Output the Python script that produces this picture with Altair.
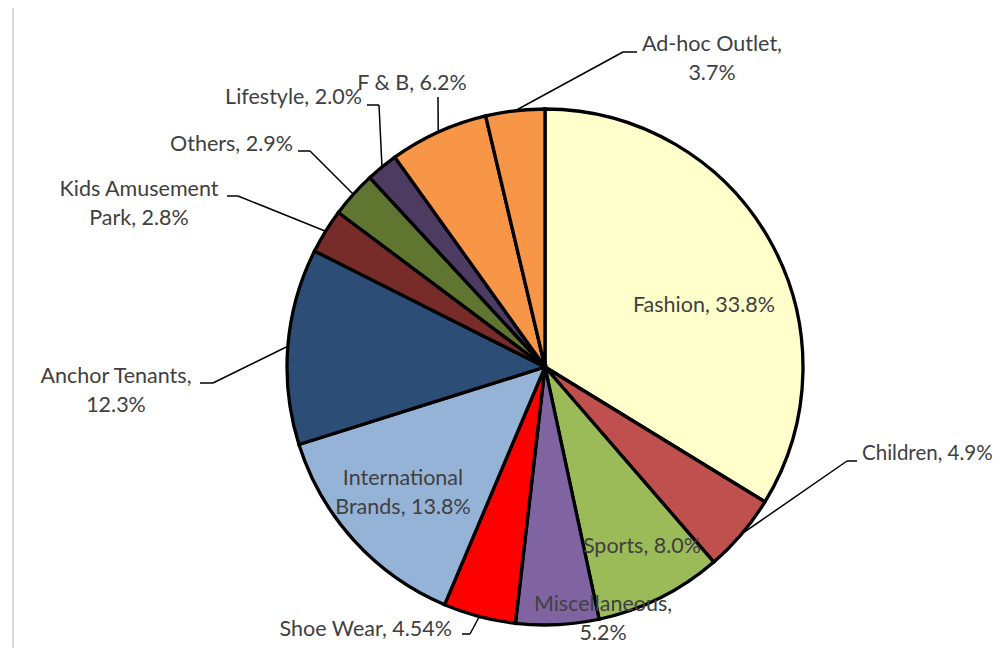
import altair as alt
import numpy as np
import pandas as pd

# ---- data ----
categories = ["Fashion", "Children", "Sports", "Miscellaneous", "Shoe Wear",
              "International Brands", "Anchor Tenants", "Kids Amusement Park",
              "Others", "Lifestyle", "F & B", "Ad-hoc Outlet"]
values = [33.8, 4.9, 8.0, 5.2, 4.54, 13.8, 12.3, 2.8, 2.9, 2.0, 6.2, 3.7]
colors = ["#FFFFCC", "#C0504D", "#9BBB59", "#8064A2", "#FF0000", "#95B3D7",
          "#2C4D75", "#772C2A", "#5F7530", "#4D3B62", "#F79646", "#F79646"]

# ---- layout (pixels, chart coordinates) ----
CX, CY, R = 537, 359, 258
label_text = {
    "Fashion": "Fashion, 33.8%",
    "Children": "Children, 4.9%",
    "Sports": "Sports, 8.0%",
    "Miscellaneous": "Miscellaneous,\n5.2%",
    "Shoe Wear": "Shoe Wear, 4.54%",
    "International Brands": "International\nBrands, 13.8%",
    "Anchor Tenants": "Anchor Tenants,\n12.3%",
    "Kids Amusement Park": "Kids Amusement\nPark, 2.8%",
    "Others": "Others, 2.9%",
    "Lifestyle": "Lifestyle, 2.0%",
    "F & B": "F & B, 6.2%",
    "Ad-hoc Outlet": "Ad-hoc Outlet,\n3.7%",
}
# label anchor (x, y of first line, align, font size)
label_pos = {
    "Fashion": (696, 298, "center", 21.5),
    "Children": (854, 446, "left", 20.5),
    "Sports": (634, 539, "center", 21.5),
    "Miscellaneous": (595, 597, "center", 21.5),
    "Shoe Wear": (444, 622, "right", 21.5),
    "International Brands": (395, 471, "center", 21.5),
    "Anchor Tenants": (108, 369, "center", 21.5),
    "Kids Amusement Park": (131, 182, "center", 21.5),
    "Others": (285, 137, "right", 21.5),
    "Lifestyle": (354, 90, "right", 21.5),
    "F & B": (404, 76, "center", 21.5),
    "Ad-hoc Outlet": (704, 37, "center", 21.5),
}
# leader line elbow and end points
leaders = {
    "Children": ((839, 453), (849, 453)),
    "Shoe Wear": ((462, 626), (454, 626)),
    "Anchor Tenants": ((205, 375), (192, 375)),
    "Kids Amusement Park": ((230, 188), (219, 188)),
    "Others": ((302, 143), (290, 143)),
    "Lifestyle": ((371, 97), (359, 97)),
    "F & B": ((430, 89), (430, 89)),
    "Ad-hoc Outlet": ((615, 44), (629, 44)),
}

total = float(np.sum(values))
cum = np.cumsum([0.0] + values)
mid_angle = (cum[:-1] + cum[1:]) / 2 / total * 2 * np.pi

df = pd.DataFrame({"category": categories, "value": values,
                   "color": colors, "idx": range(len(categories))})

lab_rows = []
for c in categories:
    x, y, a, fs = label_pos[c]
    lab_rows.append({"category": c, "text": label_text[c], "x": x, "y": y,
                     "align": a, "fs": fs})
lab = pd.DataFrame(lab_rows)

seg_rows = []
for i, c in enumerate(categories):
    if c in leaders:
        ex = CX + R * np.sin(mid_angle[i])
        ey = CY - R * np.cos(mid_angle[i])
        (bx, by), (tx, ty) = leaders[c]
        seg_rows.append({"x": ex, "y": ey, "x2": bx, "y2": by})
        seg_rows.append({"x": bx, "y": by, "x2": tx, "y2": ty})
seg = pd.DataFrame(seg_rows)

frame = alt.Chart(pd.DataFrame({"a": [0]})).mark_rect(
    fill="white", stroke="#D9D9D9", strokeWidth=2
).encode(x=alt.value(5), y=alt.value(-2), x2=alt.value(1200), y2=alt.value(1000))

pie = alt.Chart(df).mark_arc(outerRadius=R, stroke="black", strokeWidth=3.3).encode(
    theta=alt.Theta("value:Q", stack=True),
    order=alt.Order("idx:Q"),
    color=alt.Color("color:N", scale=None),
    x=alt.value(CX), y=alt.value(CY),
)

lines = alt.Chart(seg).mark_rule(color="black", strokeWidth=1.5).encode(
    x=alt.X("x:Q", scale=None), y=alt.Y("y:Q", scale=None),
    x2="x2:Q", y2="y2:Q",
)

def text_layer(align):
    return alt.Chart(lab[lab["align"] == align]).mark_text(
        align=align, baseline="middle", lineBreak="\n", font="Lato",
        color="#404040", lineHeight=28.5,
    ).encode(x=alt.X("x:Q", scale=None), y=alt.Y("y:Q", scale=None),
             size=alt.Size("fs:Q", scale=None), text="text:N")

chart = alt.layer(frame, pie, lines, text_layer("center"), text_layer("left"),
                  text_layer("right")).properties(
    width=989, height=640, padding=0, autosize=alt.AutoSizeParams(type="none")
).configure_view(stroke=None)

chart.save("out.html", embed_options={"renderer": "svg", "actions": False})
